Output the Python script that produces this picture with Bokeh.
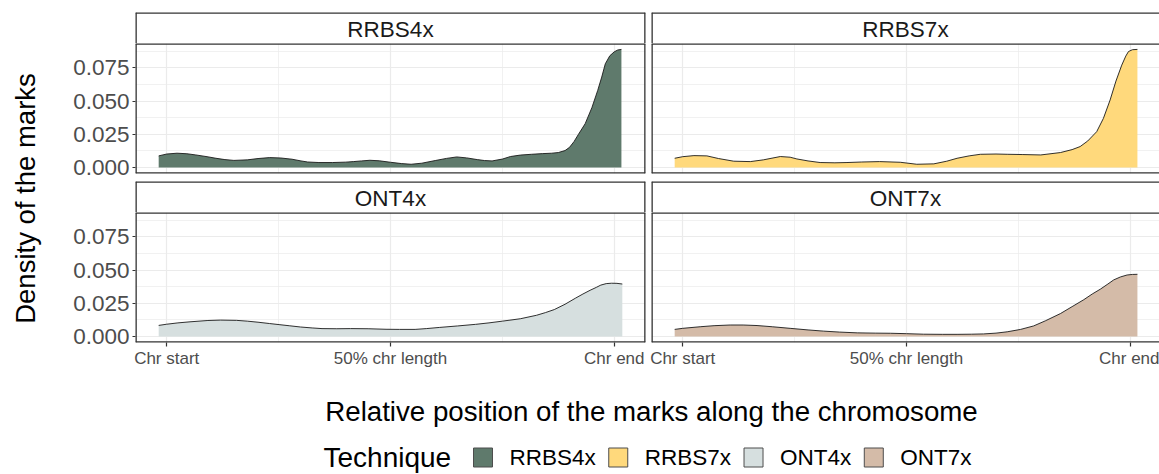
import math
from bokeh.plotting import figure
from bokeh.layouts import column, row
from bokeh.models import Range1d, FixedTicker, NumeralTickFormatter, Span
from bokeh.core.properties import value
from bokeh.embed import file_html
from bokeh.resources import INLINE

# ---------------- data ----------------
techniques = ["RRBS4x", "RRBS7x", "ONT4x", "ONT7x"]
fill_colors = ["#5f7a6c", "#ffd97c", "#d6dfdf", "#d4bba8"]

x_rrbs4 = [-0.018, 0.0, 0.023, 0.045, 0.065, 0.09, 0.11, 0.13, 0.15, 0.18, 0.204, 0.23,
           0.255, 0.28, 0.30, 0.315, 0.34, 0.37, 0.40, 0.417, 0.435, 0.454, 0.475, 0.5,
           0.525, 0.546, 0.57, 0.60, 0.625, 0.648, 0.67, 0.694, 0.71, 0.727, 0.75, 0.768,
           0.79, 0.815, 0.84, 0.86, 0.875, 0.89, 0.90, 0.91, 0.92, 0.935, 0.95, 0.963,
           0.972, 0.98, 0.99, 1.0, 1.008, 1.016]
y_rrbs4 = [0.0088, 0.0102, 0.0108, 0.0104, 0.0095, 0.0082, 0.007, 0.006, 0.0054, 0.0058,
           0.0068, 0.0075, 0.0072, 0.0063, 0.005, 0.0042, 0.0038, 0.0038, 0.0041, 0.0045,
           0.005, 0.0055, 0.0051, 0.004, 0.003, 0.0025, 0.0033, 0.0053, 0.0069, 0.008,
           0.0073, 0.006, 0.0053, 0.005, 0.0064, 0.0083, 0.0094, 0.01, 0.0105, 0.0108,
           0.0113, 0.0128, 0.0152, 0.0195, 0.025, 0.033, 0.045, 0.058, 0.068, 0.078,
           0.084, 0.087, 0.0884, 0.0888]

x_rrbs7 = [-0.018, 0.0, 0.025, 0.054, 0.08, 0.114, 0.151, 0.18, 0.218, 0.24, 0.255, 0.28,
           0.307, 0.34, 0.367, 0.40, 0.44, 0.486, 0.523, 0.561, 0.59, 0.613, 0.64, 0.665,
           0.70, 0.725, 0.76, 0.8, 0.844, 0.87, 0.888, 0.905, 0.925, 0.94, 0.955, 0.968,
           0.981, 0.99, 0.996, 1.005, 1.016]
y_rrbs7 = [0.007, 0.0082, 0.009, 0.0088, 0.0068, 0.0048, 0.0045, 0.0058, 0.0083, 0.0078,
           0.0065, 0.005, 0.0038, 0.0036, 0.0038, 0.0042, 0.0045, 0.004, 0.0025, 0.0028,
           0.0048, 0.007, 0.0088, 0.01, 0.0102, 0.01, 0.0098, 0.0095, 0.0113, 0.0135,
           0.0158, 0.02, 0.027, 0.037, 0.0508, 0.065, 0.077, 0.0838, 0.0872, 0.0886, 0.0888]

x_ont4 = [-0.018, 0.0, 0.025, 0.052, 0.092, 0.12, 0.156, 0.18, 0.204, 0.23, 0.251, 0.275,
          0.299, 0.325, 0.347, 0.38, 0.411, 0.45, 0.49, 0.52, 0.555, 0.58, 0.61, 0.65,
          0.69, 0.72, 0.75, 0.79, 0.826, 0.846, 0.866, 0.89, 0.914, 0.93, 0.946, 0.96,
          0.97, 0.982, 0.994, 1.006, 1.018]
y_ont4 = [0.0084, 0.0093, 0.0103, 0.0111, 0.0121, 0.0124, 0.0122, 0.0116, 0.0108, 0.0098,
          0.009, 0.0081, 0.0072, 0.0065, 0.006, 0.0059, 0.006, 0.0059, 0.0055, 0.0054,
          0.0054, 0.006, 0.0069, 0.008, 0.0092, 0.0103, 0.0116, 0.0134, 0.016, 0.018,
          0.0203, 0.0243, 0.029, 0.032, 0.0348, 0.037, 0.0387, 0.0398, 0.0401, 0.04, 0.0395]

x_ont7 = [-0.018, 0.0, 0.039, 0.07, 0.106, 0.135, 0.166, 0.2, 0.24, 0.28, 0.315, 0.35,
          0.39, 0.43, 0.464, 0.5, 0.538, 0.58, 0.613, 0.645, 0.672, 0.70, 0.725, 0.755,
          0.784, 0.81, 0.844, 0.87, 0.896, 0.915, 0.933, 0.95, 0.963, 0.978, 0.993,
          1.005, 1.016]
y_ont7 = [0.0054, 0.0062, 0.0074, 0.0082, 0.0087, 0.0087, 0.0083, 0.0074, 0.0062, 0.005,
          0.0041, 0.0034, 0.0028, 0.0026, 0.0025, 0.0022, 0.0018, 0.0017, 0.0017, 0.0018,
          0.002, 0.0026, 0.0036, 0.0054, 0.008, 0.0118, 0.0173, 0.0225, 0.0277, 0.032,
          0.0356, 0.0395, 0.0426, 0.0448, 0.0463, 0.0467, 0.0468]

x_tick_values = [0.0, 0.5, 1.0]
x_tick_labels = ["Chr start", "50% chr length", "Chr end"]
x_minor_values = [0.25, 0.75]
y_tick_values = [0.0, 0.025, 0.05, 0.075]
y_minor_values = [0.0125, 0.0375, 0.0625, 0.0875]

x_title = "Relative position of the marks along the chromosome"
y_title = "Density of the marks"
legend_title = "Technique"

series_x = [x_rrbs4, x_rrbs7, x_ont4, x_ont7]
series_y = [y_rrbs4, y_rrbs7, y_ont4, y_ont7]

# ---------------- layout constants ----------------
FONT = "Liberation Sans"
PAGE_H = 474
W_YLAB = 50
LEFT_BORDER = 85
FRAME_W_L = 510
FRAME_W_R = 508
GAP = 3
TOP_PAD = 12
STRIP_H = 31
PANEL_H = 130
ROW_GAP = 8
BOTTOM_AXIS = 31
BORDER_COLOR = "#333333"
BORDER_W = 2.6          # half is clipped by the frame -> ~1.3 px visible
GRID_COLOR = "#ebebeb"

all_x = [v for s in series_x for v in s]
all_y = [v for s in series_y for v in s]
xmin, xmax = min(all_x), max(all_x)
xpad = 0.05 * (xmax - xmin)
x_start, x_end_l = xmin - xpad, xmax + xpad
x_end_r = x_start + (x_end_l - x_start) * FRAME_W_R / FRAME_W_L
ymax = max(all_y)
y_start, y_end = -0.05 * ymax, ymax * 1.05


def border(f, specs):
    for loc, dim in specs:
        f.add_layout(Span(location=loc, dimension=dim, line_color=BORDER_COLOR,
                          line_width=BORDER_W))


def strip(name, left_col, top_row):
    f = figure(frame_width=FRAME_W_L if left_col else FRAME_W_R, frame_height=STRIP_H,
               x_range=Range1d(0, 1), y_range=Range1d(0, 1),
               x_axis_location=None, y_axis_location=None,
               min_border_left=LEFT_BORDER if left_col else GAP,
               min_border_right=GAP if left_col else 0,
               min_border_top=TOP_PAD if top_row else 0, min_border_bottom=0,
               output_backend="svg", toolbar_location=None)
    f.grid.visible = False
    f.outline_line_color = None
    specs = [(1, "width"), (0, "height")]
    if left_col:
        specs.append((1, "height"))
    border(f, specs)
    f.text(x=[0.5], y=[0.45], text=[name], text_align="center", text_baseline="middle",
           text_font=value(FONT), text_font_size=value("22.5px"), text_color="#1a1a1a")
    return f


def panel(i, left_col, bottom_row):
    xe = x_end_l if left_col else x_end_r
    f = figure(frame_width=FRAME_W_L if left_col else FRAME_W_R, frame_height=PANEL_H,
               x_range=Range1d(x_start, xe),
               y_range=Range1d(y_start, y_end),
               x_axis_location="below" if bottom_row else None,
               y_axis_location="left" if left_col else None,
               min_border_left=LEFT_BORDER if left_col else GAP,
               min_border_right=GAP if left_col else 0,
               min_border_top=0, min_border_bottom=BOTTOM_AXIS if bottom_row else ROW_GAP,
               output_backend="svg", toolbar_location=None)
    f.outline_line_color = None
    f.xgrid.ticker = FixedTicker(ticks=x_tick_values, minor_ticks=x_minor_values)
    f.ygrid.ticker = FixedTicker(ticks=y_tick_values, minor_ticks=y_minor_values)
    for g in (f.xgrid, f.ygrid):
        g.grid_line_color = GRID_COLOR
        g.grid_line_width = 1.2
        g.minor_grid_line_color = GRID_COLOR
        g.minor_grid_line_width = 0.7
    if bottom_row:
        ax = f.xaxis[0]
        ax.ticker = FixedTicker(ticks=x_tick_values, minor_ticks=[])
        ax.major_label_overrides = {k: v for k, v in zip(x_tick_values, x_tick_labels)}
        ax.axis_line_color = None
        ax.major_tick_line_color = BORDER_COLOR
        ax.major_tick_line_width = 1.2
        ax.major_tick_in = 0
        ax.major_tick_out = 4
        ax.minor_tick_line_color = None
        ax.major_label_standoff = 2
        ax.major_label_text_font = FONT
        ax.major_label_text_font_size = "17px"
        ax.major_label_text_color = "#4d4d4d"
    if left_col:
        ay = f.yaxis[0]
        ay.ticker = FixedTicker(ticks=y_tick_values, minor_ticks=[])
        ay.formatter = NumeralTickFormatter(format="0.000")
        ay.axis_line_color = None
        ay.major_tick_line_color = BORDER_COLOR
        ay.major_tick_line_width = 1.2
        ay.major_tick_in = 0
        ay.major_tick_out = 3
        ay.minor_tick_line_color = None
        ay.major_label_standoff = 3
        ay.major_label_text_font = FONT
        ay.major_label_text_font_size = "22.5px"
        ay.major_label_text_color = "#4d4d4d"
    f.varea(x=series_x[i], y1=0, y2=series_y[i], fill_color=fill_colors[i], fill_alpha=1)
    f.line(x=series_x[i], y=series_y[i], line_color="#1a1a1a", line_width=0.9)
    specs = [(y_start, "width"), (y_end, "width"), (x_start, "height")]
    if left_col:
        specs.append((xe, "height"))
    border(f, specs)
    return f


left_col = column(strip(techniques[0], True, True), panel(0, True, False),
                  strip(techniques[2], True, False), panel(2, True, True))
right_col = column(strip(techniques[1], False, True), panel(1, False, False),
                   strip(techniques[3], False, False), panel(3, False, True))

GRID_H = TOP_PAD + STRIP_H + PANEL_H + ROW_GAP + STRIP_H + PANEL_H + BOTTOM_AXIS
TOTAL_W = W_YLAB + LEFT_BORDER + FRAME_W_L + GAP + GAP + FRAME_W_R


def blank(w, h):
    f = figure(width=w, height=h, x_range=Range1d(0, w), y_range=Range1d(0, h),
               x_axis_location=None, y_axis_location=None,
               min_border=0, output_backend="svg", toolbar_location=None)
    f.grid.visible = False
    f.outline_line_color = None
    return f


ylab = blank(W_YLAB, GRID_H)
ylab.text(x=[25], y=[GRID_H - 198], text=[y_title], angle=math.pi / 2,
          text_align="center", text_baseline="middle",
          text_font=value(FONT), text_font_size=value("27.5px"), text_color="black")

XLAB_H = 57
xlab = blank(TOTAL_W, XLAB_H)
xlab.text(x=[651], y=[XLAB_H - 38], text=[x_title], text_align="center",
          text_baseline="middle",
          text_font=value(FONT), text_font_size=value("27.7px"), text_color="black")

# legend (keys + labels laid out with Arial/Liberation Sans advance widths)
LEG_H = PAGE_H - GRID_H - XLAB_H
leg = blank(TOTAL_W, LEG_H)
ADV = {"R": 0.722, "B": 0.667, "S": 0.667, "4": 0.556, "7": 0.556, "x": 0.5,
       "O": 0.778, "N": 0.722, "T": 0.611}
LABEL_PX = 22.5
KEY = 19
KEY_GAP = 17
ITEM_GAP = 13
key_mid = PAGE_H - 457          # legend centre line, measured from the page bottom
leg.text(x=[323], y=[key_mid], text=[legend_title], text_align="left",
         text_baseline="middle",
         text_font=value(FONT), text_font_size=value("28px"), text_color="black")
cursor = 473
key_l, key_r, lab_x = [], [], []
for name in techniques:
    key_l.append(cursor)
    key_r.append(cursor + KEY)
    lab_x.append(cursor + KEY + KEY_GAP)
    cursor += KEY + KEY_GAP + sum(ADV[ch] for ch in name) * LABEL_PX + ITEM_GAP
leg.quad(left=key_l, right=key_r, bottom=[key_mid - KEY / 2] * 4,
         top=[key_mid + KEY / 2] * 4, fill_color=fill_colors, line_color="#4d4d4d",
         line_width=1)
leg.text(x=lab_x, y=[key_mid] * 4, text=techniques, text_align="left",
         text_baseline="middle",
         text_font=value(FONT), text_font_size=value(f"{LABEL_PX}px"), text_color="black")

layout = column(row(ylab, left_col, right_col), xlab, leg)

open("out.html", "w").write(file_html(layout, INLINE))
